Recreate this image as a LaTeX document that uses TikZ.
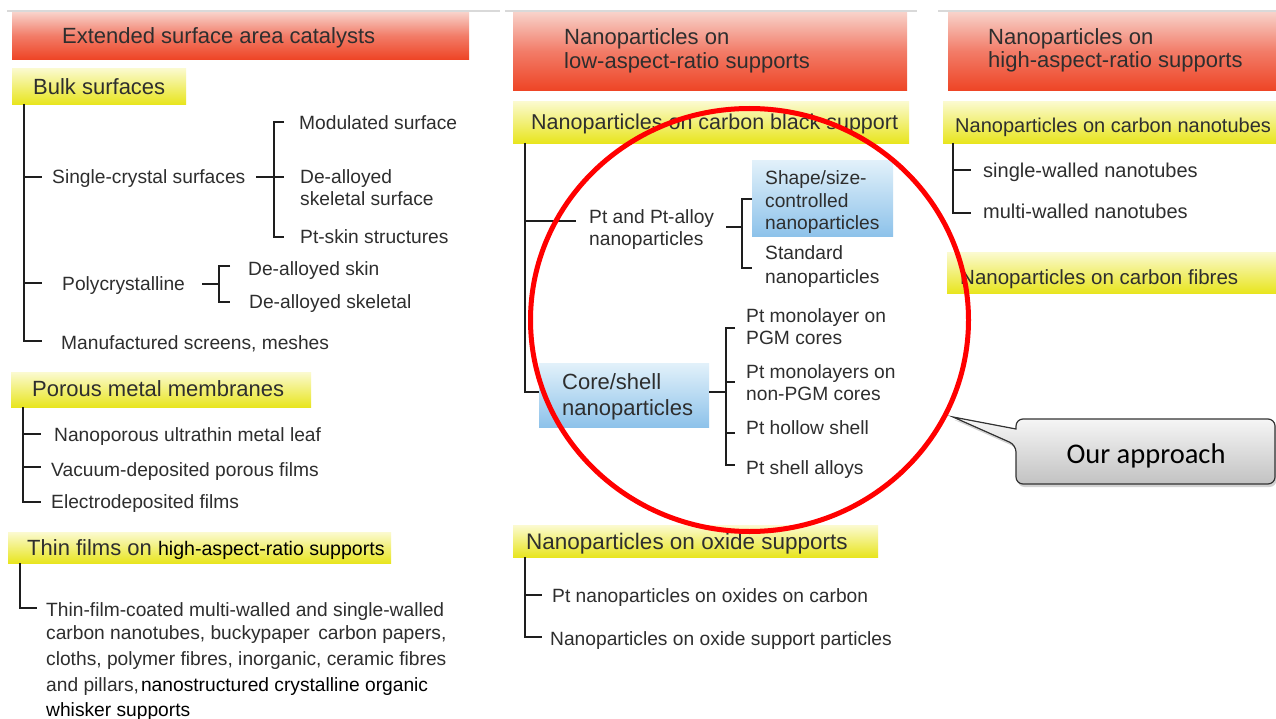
\documentclass[tikz,border=0pt]{standalone}
\usepackage{fontspec}
\setmainfont{Liberation Sans}
\newfontfamily\calloutfont{Carlito}
\usetikzlibrary{shadows,shapes.geometric}
\definecolor{tc}{HTML}{2E2E2E}
\definecolor{lc}{HTML}{1E1E1E}
\definecolor{redtop}{HTML}{F8D2CA}
\definecolor{redmid}{HTML}{F27C68}
\definecolor{redbot}{HTML}{EE4526}
\definecolor{yeltop}{HTML}{FBFAD0}
\definecolor{yelbot}{HTML}{E8E51E}
\definecolor{bluetop}{HTML}{E2F1FA}
\definecolor{bluebot}{HTML}{8DC2EA}
\definecolor{graytop}{HTML}{F7F7F7}
\definecolor{graybot}{HTML}{C2C2C2}
\tikzset{
  basetxt/.style={anchor=base west, inner sep=0pt, text=tc},
  txt/.style={basetxt, yshift=-1.5pt, font=\fontsize{19.2}{23}\selectfont},
  big/.style={basetxt, font=\fontsize{22}{26}\selectfont},
  mid/.style={basetxt, yshift=-1pt, font=\fontsize{20}{24}\selectfont},
  boxbase/.style={anchor=north west, inner sep=0pt, draw=none},
  redbox/.style={boxbase, top color=redtop, bottom color=redbot, middle color=redmid},
  yelbox/.style={boxbase, top color=yeltop, bottom color=yelbot},
  bluebox/.style={boxbase, top color=bluetop, bottom color=bluebot},
  tl/.style={draw=lc, line width=1.6pt},
  topline/.style={draw=black!15, line width=1.5pt},
  callout/.style={draw=black!80, line width=1.2pt, top color=graytop, bottom color=graybot,
    drop shadow={shadow xshift=1.5pt, shadow yshift=-3pt, opacity=.35}},
}
\begin{document}
\begin{tikzpicture}[x=1pt,y=-1pt]
\useasboundingbox[fill=white] (0,0) rectangle (1276,719);
% faint top rules
\draw[topline] (7,11) -- (500,11);
\draw[topline] (505,11) -- (917,11);
\draw[topline] (938,11) -- (1276,11);
% red column headers
\node[redbox, minimum width=457pt, minimum height=47pt] (H1) at (12,12) {};
\node[redbox, minimum width=394pt, minimum height=78pt] (H2) at (513,12) {};
\node[redbox, minimum width=328pt, minimum height=78pt] (H3) at (948,12) {};
\node[big] (H1t) at (62,44) {Extended surface area catalysts};
\node[big] (H2a) at (564,45) {Nanoparticles on};
\node[big] (H2b) at (564,69) {low-aspect-ratio supports};
\node[big] (H3a) at (988,45) {Nanoparticles on};
\node[big] (H3b) at (988,68) {high-aspect-ratio supports};
% yellow sub-headers
\node[yelbox, minimum width=174pt, minimum height=36pt] (Y1) at (12,68) {};
\node[yelbox, minimum width=300pt, minimum height=35pt] (Y2) at (11,372) {};
\node[yelbox, minimum width=383pt, minimum height=31pt] (Y3) at (8,532) {};
\node[yelbox, minimum width=396pt, minimum height=42pt] (Y4) at (513,101) {};
\node[yelbox, minimum width=365pt, minimum height=32pt] (Y5) at (513,525) {};
\node[yelbox, minimum width=333pt, minimum height=42pt] (Y6) at (943,101) {};
\node[yelbox, minimum width=329pt, minimum height=41pt] (Y7) at (947,252) {};
\node[big] (Y1t) at (33,95) {Bulk surfaces};
\node[big] (Y2t) at (32,396) {Porous metal membranes};
\node[big] (Y3t) at (27,555) {Thin films on {\fontsize{19.6}{24}\selectfont\color{black}high-aspect-ratio supports}};
\node[big, font=\fontsize{21.5}{26}\selectfont] (Y4t) at (531,130) {Nanoparticles on carbon black support};
\node[big, font=\fontsize{22.5}{27}\selectfont] (Y5t) at (526,549) {Nanoparticles on oxide supports};
\node[mid] (Y6t) at (955,132) {Nanoparticles on carbon nanotubes};
\node[mid, font=\fontsize{20.5}{24}\selectfont] (Y7t) at (960,283) {Nanoparticles on carbon fibres};
% blue boxes
\node[bluebox, minimum width=141pt, minimum height=76pt] (B1) at (752,160) {};
\node[bluebox, minimum width=170pt, minimum height=64pt] (B2) at (539,363) {};
% ---------- column 1 texts
\node[txt] (sc) at (52,182) {Single-crystal surfaces};
\node[txt] (mod) at (299,128) {Modulated surface};
\node[txt] (dea) at (300,182) {De-alloyed};
\node[txt] (deb) at (300,204) {skeletal surface};
\node[txt] (pts) at (300,242) {Pt-skin structures};
\node[txt] (poly) at (62,289) {Polycrystalline};
\node[txt] (dsk) at (248,274) {De-alloyed skin};
\node[txt] (dsl) at (249,307) {De-alloyed skeletal};
\node[txt] (man) at (61,348) {Manufactured screens, meshes};
\node[txt] (nul) at (54,440) {Nanoporous ultrathin metal leaf};
\node[txt] (vdp) at (51,475) {Vacuum-deposited porous films};
\node[txt] (edf) at (51,507) {Electrodeposited films};
\node[txt] (tf1) at (46,615) {Thin-film-coated multi-walled and single-walled};
\node[txt] (tf2) at (46,638) {carbon nanotubes, buckypaper\, carbon papers,};
\node[txt] (tf3) at (46,664) {cloths, polymer fibres, inorganic, ceramic fibres};
\node[txt] (tf4) at (46,690) {and pillars,\hspace{2pt}{\color{black}nanostructured crystalline organic}};
\node[txt, text=black] (tf5) at (46,715) {whisker supports};
% ---------- column 2 texts
\node[txt] (pa1) at (589,222) {Pt and Pt-alloy};
\node[txt] (pa2) at (589,244) {nanoparticles};
\node[txt] (ss1) at (765,183) {Shape/size-};
\node[txt] (ss2) at (765,206) {controlled};
\node[txt] (ss3) at (765,228) {nanoparticles};
\node[txt] (st1) at (765,258) {Standard};
\node[txt] (st2) at (765,282) {nanoparticles};
\node[big] (cs1) at (562,389) {Core/shell};
\node[big] (cs2) at (562,415) {nanoparticles};
\node[txt] (m11) at (746,321) {Pt monolayer on};
\node[txt] (m12) at (746,343) {PGM cores};
\node[txt] (m21) at (746,377) {Pt monolayers on};
\node[txt] (m22) at (746,399) {non-PGM cores};
\node[txt] (hol) at (746,433) {Pt hollow shell};
\node[txt] (sha) at (746,473) {Pt shell alloys};
\node[txt] (ox1) at (552,601) {Pt nanoparticles on oxides on carbon};
\node[txt] (ox2) at (550,644) {Nanoparticles on oxide support particles};
% ---------- column 3 texts
\node[mid] (sw) at (983,177) {single-walled nanotubes};
\node[mid] (mw) at (983,218) {multi-walled nanotubes};
% ---------- tree coordinates
\path (24,104) coordinate (bT) (24,341) coordinate (bB) (24,177) coordinate (b1)
      (42,177) coordinate (b1e) (24,283) coordinate (b2) (42,283) coordinate (b2e)
      (42,341) coordinate (b3e);
\path (256,177) coordinate (s0) (274,122) coordinate (sT) (274,237) coordinate (sB)
      (284,122) coordinate (sTe) (284,237) coordinate (sBe) (284,177) coordinate (sMe);
\path (202,284) coordinate (p0) (219,284) coordinate (pM) (219,266) coordinate (pT)
      (219,302) coordinate (pB) (230,266) coordinate (pTe) (230,302) coordinate (pBe);
\path (23,407) coordinate (qT) (23,502) coordinate (qB) (23,434) coordinate (q1)
      (41,434) coordinate (q1e) (23,467) coordinate (q2) (41,467) coordinate (q2e)
      (41,502) coordinate (q3e);
\path (20,563) coordinate (tT) (20,608) coordinate (tB) (37,608) coordinate (tBe);
\path (525,143) coordinate (cT) (525,392) coordinate (cB) (525,221) coordinate (c1)
      (576,221) coordinate (c1e) (539,392) coordinate (cBe);
\path (726,227) coordinate (a0) (742,227) coordinate (aM) (742,199) coordinate (aT)
      (742,268) coordinate (aB) (752,199) coordinate (aTe) (752,268) coordinate (aBe);
\path (709,392) coordinate (k0) (726,392) coordinate (kM) (726,328) coordinate (kT)
      (726,465) coordinate (kB) (735,328) coordinate (kTe) (735,465) coordinate (kBe)
      (726,382) coordinate (k2) (735,382) coordinate (k2e) (726,433) coordinate (k3)
      (735,433) coordinate (k3e);
\path (525,557) coordinate (oT) (525,637) coordinate (oB) (525,595) coordinate (o1)
      (542,595) coordinate (o1e) (542,637) coordinate (oBe);
\path (953,143) coordinate (nT) (953,213) coordinate (nB) (953,170) coordinate (n1)
      (971,170) coordinate (n1e) (971,213) coordinate (nBe);
% ---------- tree lines
\draw[tl] (bT) -- (bB) -- (b3e);
\draw[tl] (b1) -- (b1e);
\draw[tl] (b2) -- (b2e);
\draw[tl] (sTe) -- (sT) -- (sB) -- (sBe);
\draw[tl] (s0) -- (sMe);
\draw[tl] (pTe) -- (pT) -- (pB) -- (pBe);
\draw[tl] (p0) -- (pM);
\draw[tl] (qT) -- (qB) -- (q3e);
\draw[tl] (q1) -- (q1e);
\draw[tl] (q2) -- (q2e);
\draw[tl] (tT) -- (tB) -- (tBe);
\draw[tl] (cT) -- (cB) -- (cBe);
\draw[tl] (c1) -- (c1e);
\draw[tl] (aTe) -- (aT) -- (aB) -- (aBe);
\draw[tl] (a0) -- (aM);
\draw[tl] (kTe) -- (kT) -- (kB) -- (kBe);
\draw[tl] (k0) -- (kM);
\draw[tl] (k2) -- (k2e);
\draw[tl] (k3) -- (k3e);
\draw[tl] (oT) -- (oB) -- (oBe);
\draw[tl] (o1) -- (o1e);
\draw[tl] (nT) -- (nB) -- (nBe);
\draw[tl] (n1) -- (n1e);
% ---------- red ring
\node[ellipse, draw=red, line width=5pt, minimum width=438pt, minimum height=423pt, inner sep=0pt] (ring) at (749.5,320) {};
% ---------- callout
\draw[callout] (1146,419) [rounded corners=7pt] -- (1275,419) -- (1275,484) -- (1016,484) -- (1016,445)
  [sharp corners] -- (953,417) -- (1016,429) [rounded corners=7pt] -- (1016,419) -- cycle;
\node[anchor=base, inner sep=0pt, text=black, font=\calloutfont\fontsize{28.5}{33}\selectfont] (approach) at (1146,463) {Our approach};
\end{tikzpicture}
\end{document}
